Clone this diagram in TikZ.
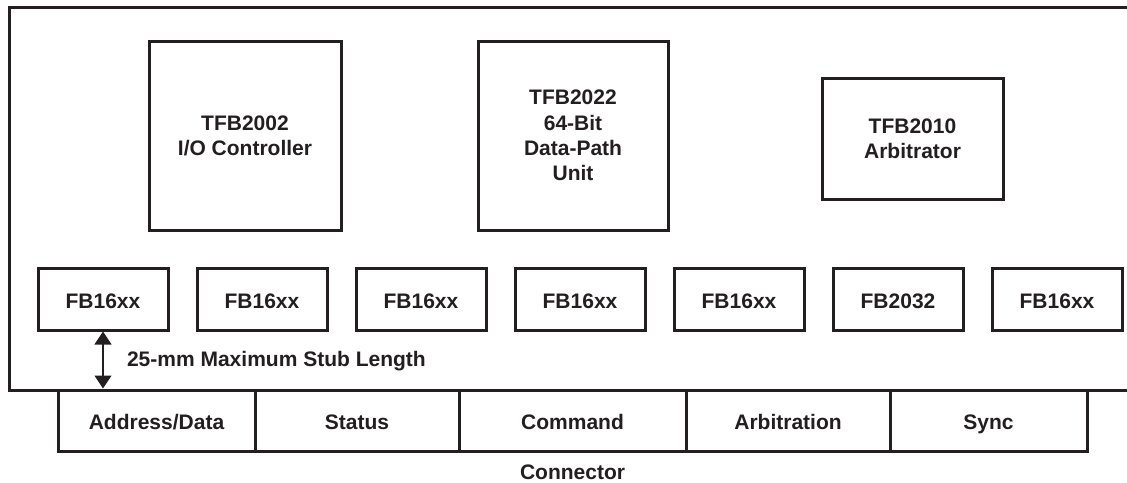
\documentclass[tikz,border=0pt]{standalone}
\usepackage{fontspec}
\setmainfont{Liberation Sans}
\usetikzlibrary{arrows.meta}
\definecolor{ink}{RGB}{35,31,32}
\begin{document}
\begin{tikzpicture}[x=0.5pt,y=-0.5pt,
  every node/.style={font=\fontsize{10.5}{12.6}\selectfont\bfseries, text=ink},
  chip/.style={draw=ink, line width=1.5pt, inner sep=0pt, align=center},
  fbbox/.style={chip, minimum width=65pt, minimum height=31pt, text height=9pt, text depth=0pt},
  cell/.style={chip, minimum height=30.5pt, text height=9pt, text depth=0pt},
  stub/.style={draw=ink, line width=0.6pt, {Triangle[width=8.5pt,length=6.5pt]}-{Triangle[width=8.5pt,length=6.5pt]}}
]
\useasboundingbox (0,0) rectangle (1127,482);
\fill[white] (0,0) rectangle (1127,482);
% board
\draw[ink, line width=1.5pt] (1130,7) -- (9,7) -- (9,390) -- (1130,390);
% large chips
\node[chip, minimum width=96pt, minimum height=94.5pt] (io) at (245,135.5) {TFB2002\\I/O Controller};
\node[chip, minimum width=95pt, minimum height=94.5pt] (dp) at (573,135.5) {TFB2022\\64-Bit\\Data-Path\\Unit};
\node[chip, minimum width=90.5pt, minimum height=60.5pt] (arb) at (912.5,138.5) {TFB2010\\Arbitrator};
% transceivers
\node[fbbox] (f1) at (103,299) {FB16xx};
\node[fbbox] (f2) at (262,299) {FB16xx};
\node[fbbox] (f3) at (421,299) {FB16xx};
\node[fbbox] (f4) at (580,299) {FB16xx};
\node[fbbox] (f5) at (739,299) {FB16xx};
\node[fbbox] (f6) at (898,299) {FB2032};
\node[fbbox] (f7) at (1057,299) {FB16xx};
% connector cells
\node[cell, minimum width=98.5pt] (c1) at (156.5,420.5) {Address/Data};
\node[cell, minimum width=102pt] (c2) at (357,420.5) {Status};
\node[cell, minimum width=113.5pt] (c3) at (572.5,420.5) {Command};
\node[cell, minimum width=102pt] (c4) at (788,420.5) {Arbitration};
\node[cell, minimum width=98.5pt] (c5) at (988.5,420.5) {Sync};
\node (conn) at (572.5,472) {Connector};
% stub length
\draw[stub] (f1.south) -- (f1.south |- c1.north);
\node[anchor=west] (stubtxt) at (120,361) {25-mm Maximum Stub Length};
\end{tikzpicture}
\end{document}
